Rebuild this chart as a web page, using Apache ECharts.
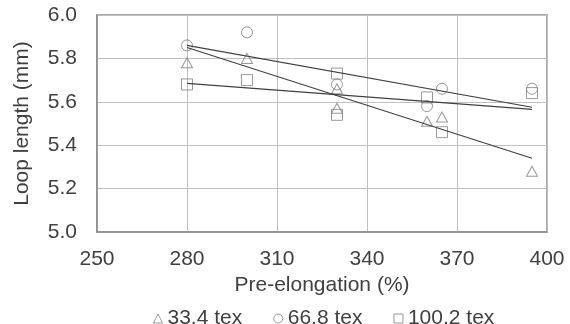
<!DOCTYPE html>
<html>
<head>
<meta charset="utf-8">
<script src="https://cdn.jsdelivr.net/npm/echarts@6/dist/echarts.min.js"></script>
<style>html,body{margin:0;padding:0;background:#fff;}#c{width:570px;height:324px;}</style>
</head>
<body>
<div id="c"></div>
<script>
// ---- data ----
const seriesNames = ['33.4 tex', '66.8 tex', '100.2 tex'];
const triX = [280, 300, 330, 330, 360, 365, 395];
const triY = [5.78, 5.80, 5.66, 5.57, 5.51, 5.53, 5.28];
const circX = [280, 300, 330, 360, 365, 395];
const circY = [5.86, 5.92, 5.68, 5.58, 5.66, 5.66];
const sqX = [280, 300, 330, 330, 360, 365, 395];
const sqY = [5.68, 5.70, 5.73, 5.54, 5.62, 5.46, 5.64];
// linear trendline endpoints (x range 280..395)
const trendX = [280, 395];
const triTrend = [5.85, 5.34];
const circTrend = [5.86, 5.575];
const sqTrend = [5.685, 5.565];
const xTicks = [250, 280, 310, 340, 370, 400];
const yTicks = [5.0, 5.2, 5.4, 5.6, 5.8, 6.0];

const zip = (xs, ys) => xs.map((x, i) => [x, ys[i]]);
const FONT = 'Liberation Sans, Arial, sans-serif';
const FS = 21;
const TXT = '#404040';
const MK = '#808080';

const chart = echarts.init(document.getElementById('c'), null, {renderer: 'canvas'});
const markerStyle = {color: 'rgba(255,255,255,0)', borderColor: MK, borderWidth: 1};
const trendStyle = {color: '#404040', width: 1.2};

chart.setOption({
  animation: false,
  backgroundColor: '#fff',
  textStyle: {fontFamily: FONT},
  grid: {left: 97, top: 15, width: 450, height: 217, show: true, borderColor: '#8c8c8c', borderWidth: 1.5, backgroundColor: 'transparent'},
  xAxis: {
    type: 'value', min: xTicks[0], max: xTicks[xTicks.length - 1], interval: 30,
    name: 'Pre-elongation (%)', nameLocation: 'middle', nameGap: 39,
    nameTextStyle: {color: TXT, fontSize: FS, fontFamily: FONT},
    axisLine: {show: true, lineStyle: {color: '#8c8c8c', width: 1.5}},
    axisTick: {show: false},
    axisLabel: {color: TXT, fontSize: FS, fontFamily: FONT, margin: 17},
    splitLine: {show: true, lineStyle: {color: '#bfbfbf', width: 1}}
  },
  yAxis: {
    type: 'value', min: yTicks[0], max: yTicks[yTicks.length - 1], interval: 0.2,
    name: 'Loop length (mm)', nameLocation: 'middle', nameGap: 64,
    nameTextStyle: {color: TXT, fontSize: FS, fontFamily: FONT},
    axisLine: {show: true, lineStyle: {color: '#8c8c8c', width: 1.5}},
    axisTick: {show: false},
    axisLabel: {color: TXT, fontSize: FS, fontFamily: FONT, margin: 20, formatter: v => v.toFixed(1)},
    splitLine: {show: true, lineStyle: {color: '#bfbfbf', width: 1}}
  },
  legend: {
    left: 148, top: 303, itemGap: 31, itemWidth: 9, itemHeight: 9,
    textStyle: {color: TXT, fontSize: FS, fontFamily: FONT},
    data: [
      {name: seriesNames[0], icon: 'triangle', itemStyle: markerStyle},
      {name: seriesNames[1], icon: 'circle', itemStyle: markerStyle},
      {name: seriesNames[2], icon: 'rect', itemStyle: markerStyle}
    ]
  },
  series: [
    {name: seriesNames[0], type: 'scatter', symbol: 'triangle', symbolSize: [11, 10], itemStyle: markerStyle, data: zip(triX, triY), z: 3},
    {name: seriesNames[1], type: 'scatter', symbol: 'circle', symbolSize: 11, itemStyle: markerStyle, data: zip(circX, circY), z: 3},
    {name: seriesNames[2], type: 'scatter', symbol: 'rect', symbolSize: 11, itemStyle: markerStyle, data: zip(sqX, sqY), z: 3},
    {name: 'trend1', type: 'line', symbol: 'none', lineStyle: trendStyle, data: zip(trendX, triTrend), z: 4},
    {name: 'trend2', type: 'line', symbol: 'none', lineStyle: trendStyle, data: zip(trendX, circTrend), z: 4},
    {name: 'trend3', type: 'line', symbol: 'none', lineStyle: trendStyle, data: zip(trendX, sqTrend), z: 4}
  ]
});
</script>
</body>
</html>
